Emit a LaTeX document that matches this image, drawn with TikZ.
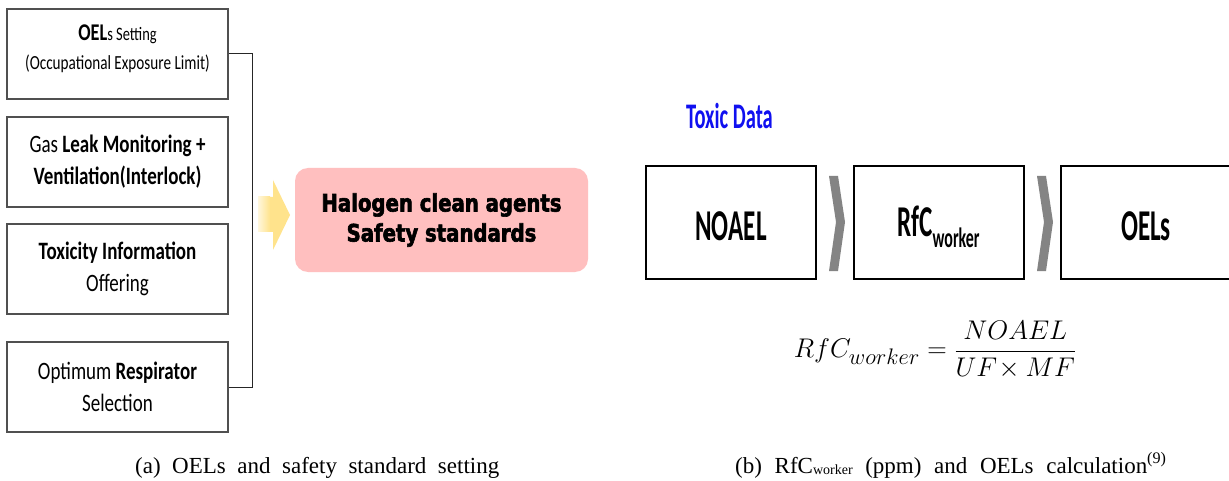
\documentclass[tikz,border=0pt]{standalone}
\usepackage{fontspec}
\setmainfont{Liberation Serif}
\newfontfamily\boxfont[FakeStretch=0.76]{Carlito}
\newfontfamily\datafont[FakeStretch=0.57]{Carlito}
\newfontfamily\heavyfont[FakeStretch=0.82,FakeBold=2.5]{DejaVu Sans}
\usepackage{xcolor}
\usetikzlibrary{positioning,calc}
\definecolor{boxgray}{HTML}{505050}
\definecolor{pinkfill}{HTML}{FFBFBF}
\definecolor{arrowyellow}{HTML}{FFE38C}
\definecolor{chevgray}{HTML}{848484}
\definecolor{toxicblue}{HTML}{1010F0}
\tikzset{
  optbox/.style={draw=boxgray, line width=1.4pt, minimum width=221pt, minimum height=90pt, inner sep=0pt, align=center, font=\boxfont\fontsize{25}{32}\selectfont},
  databox/.style={draw=black, line width=2pt, minimum width=170pt, minimum height=113pt, inner sep=0pt, text height=36pt, text depth=0pt, font=\datafont\bfseries\fontsize{44}{44}\selectfont},
  goalbox/.style={fill=pinkfill, rounded corners=13pt, minimum width=293pt, minimum height=104pt, inner sep=0pt, align=center, font=\heavyfont\bfseries\fontsize{24}{30}\selectfont},
  bracketline/.style={draw=black!85, line width=1pt},
  chevronfill/.style={fill=chevgray},
  captext/.style={anchor=base west, inner sep=0pt, font=\fontsize{23}{28}\selectfont}
}

\begin{document}
\begin{tikzpicture}[x=1pt, y=-1pt]
  \path[use as bounding box, fill=white] (0,0) rectangle (1229,481);

  \node[optbox, text depth=14pt] (oel) at (117.5,54) {{\bfseries\fontsize{24}{28}\selectfont OEL}{\fontsize{19}{28}\selectfont s Setting}\\[-3pt]{\fontsize{20}{28}\selectfont (Occupational Exposure Limit)}};
  \node[optbox] (leak) at (117.5,162) {Gas \textbf{Leak Monitoring +}\\\textbf{Ventilation(Interlock)}};
  \node[optbox] (toxinfo) at (117.5,269) {\textbf{Toxicity Information}\\Offering};
  \node[optbox] (resp) at (117.5,387) {Optimum \textbf{Respirator}\\Selection};

  \draw[bracketline] (oel.east) -- ++(24,0) |- (resp.east);

  \fill[arrowyellow] (258,197) -- (273,197) -- (273,180) -- (290,215) -- (273,250) -- (273,232) -- (258,232) -- cycle;
  \shade[left color=arrowyellow!30, right color=arrowyellow] (258,197) rectangle (270,232);

  \node[goalbox] (goal) at (441.5,220) {Halogen clean agents\\Safety standards};

  \node[anchor=base west, inner sep=0pt, text=toxicblue, font=\datafont\bfseries\fontsize{36}{36}\selectfont] (toxic) at (686,129) {Toxic Data};

  \node[databox] (noael) at (731,222.5) {NOAEL};
  \node[databox, text height=28pt] (rfc) at (938.5,222.5) {RfC\raisebox{-11pt}{\fontsize{28}{28}\selectfont worker}};
  \node[databox] (oels) at (1146,222.5) {OELs};

  \foreach \cx in {829,1037} {
    \fill[chevronfill] (\cx,176) -- ++(9,0) -- ++(7,46) -- ++(-7,49) -- ++(-9,0) -- ++(7,-49) -- cycle;
  }

  \node[inner sep=0pt] (formula) at (935,350) {\scalebox{1.085}{\fontsize{24.88}{30}\selectfont $\displaystyle RfC_{worker}=\frac{NOAEL}{UF\!\times MF}$}};

  \node[captext] (capa) at (135,473) {\spaceskip=0.5em\relax (a) OELs and safety standard setting};
  \node[captext] (capb) at (735,473) {\spaceskip=0.55em\relax (b) RfC\raisebox{-1.5pt}{\fontsize{14}{14}\selectfont worker} (ppm) and OELs calculation\textsuperscript{(9)}};
\end{tikzpicture}
\end{document}
